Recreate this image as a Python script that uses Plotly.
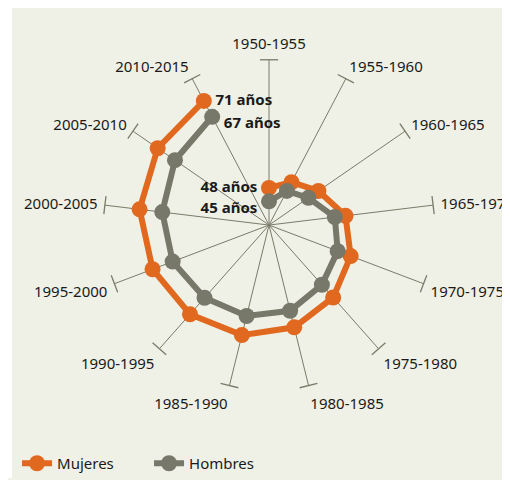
import plotly.graph_objects as go

periods = ["1950-1955", "1955-1960", "1960-1965", "1965-1970", "1970-1975",
           "1975-1980", "1980-1985", "1985-1990", "1990-1995", "1995-2000",
           "2000-2005", "2005-2010", "2010-2015"]
mujeres = [48.0, 50.5, 53.1, 56.9, 59.2, 61.3, 63.2, 65.0, 66.3, 67.5, 68.8, 69.9, 71.0]
hombres = [45.0, 48.3, 50.4, 54.5, 56.1, 57.5, 59.4, 60.6, 61.4, 62.7, 63.7, 65.2, 67.0]

R_MIN, R_MAX = 39.7, 76.6
ORANGE = "#e0691f"
GREY = "#77776a"
SPOKE = "#7b7b6a"
BG = "#eff0e6"
FONT = "Noto Sans"
W, H = 502, 472

n = len(periods)
angles = [i * 360.0 / n for i in range(n)]

fig = go.Figure()

# end caps of spokes
fig.add_trace(go.Scatterpolar(
    r=[R_MAX] * n, theta=periods, mode="markers", showlegend=False, hoverinfo="skip",
    marker=dict(symbol="line-ew", size=13, angle=angles,
                line=dict(color=SPOKE, width=1.3), color=SPOKE)))

for name, vals, col in [("Mujeres", mujeres, ORANGE), ("Hombres", hombres, GREY)]:
    fig.add_trace(go.Scatterpolar(
        r=vals, theta=periods, mode="lines+markers", name=name,
        line=dict(color=col, width=6),
        marker=dict(color=col, size=16)))

lbl_font = dict(family=FONT, size=15, color="#1a1a1a", weight="bold")
# value annotations
fig.add_trace(go.Scatterpolar(
    r=[mujeres[-1], hombres[-1]], theta=[periods[-1], periods[-1]], mode="text",
    text=["   %d años" % round(mujeres[-1]), "   %d años" % round(hombres[-1])],
    textposition=["middle right", "bottom right"], showlegend=False, hoverinfo="skip",
    textfont=lbl_font))
fig.add_trace(go.Scatterpolar(
    r=[mujeres[0], hombres[0]], theta=[periods[0], periods[0]], mode="text",
    text=["%d años   " % round(mujeres[0]), "%d años   " % round(hombres[0])],
    textposition=["middle left", "bottom left"], showlegend=False, hoverinfo="skip",
    textfont=lbl_font))


def fy(px):
    return 1 - px / H


fig.update_layout(
    width=W, height=H,
    margin=dict(l=0, r=0, t=0, b=0),
    paper_bgcolor=BG,
    plot_bgcolor=BG,
    font=dict(family=FONT, size=15, color="#1a1a1a"),
    shapes=[dict(type="rect", xref="paper", yref="paper", x0=0, x1=4 / W,
                 y0=0, y1=1, fillcolor="white", line=dict(width=0), layer="below")],
    polar=dict(
        domain=dict(x=[95 / W, 427 / W], y=[fy(384), fy(52)]),
        bgcolor="rgba(0,0,0,0)",
        radialaxis=dict(range=[R_MIN, R_MAX], visible=False, showgrid=False),
        angularaxis=dict(direction="clockwise", rotation=90, showline=False,
                         showgrid=True, gridcolor=SPOKE, gridwidth=1.2,
                         ticks="outside", ticklen=4, tickcolor="rgba(0,0,0,0)",
                         tickfont=dict(family=FONT, size=15, color="#1a1a1a")),
    ),
    legend=dict(orientation="h", x=0.018, y=-0.005, xanchor="left", yanchor="bottom",
                entrywidth=87, bgcolor="rgba(0,0,0,0)",
                font=dict(family=FONT, size=15, color="#1a1a1a")),
    showlegend=True,
)

fig.write_html("out.html")
